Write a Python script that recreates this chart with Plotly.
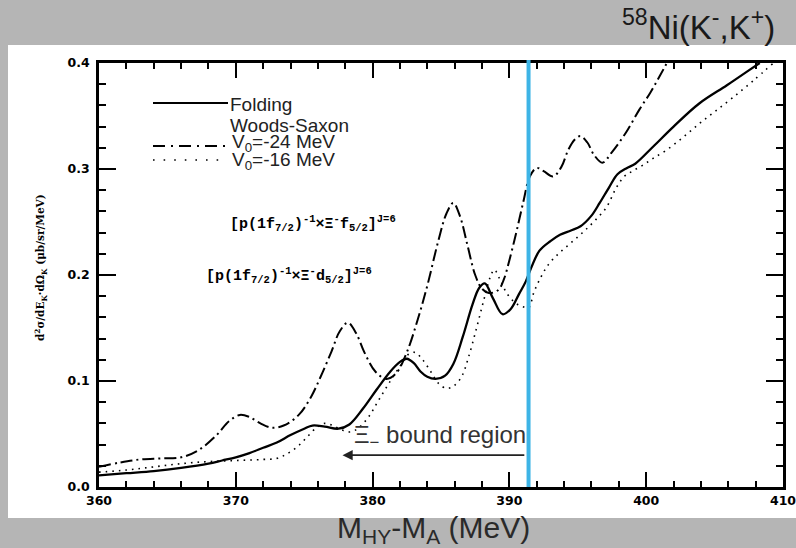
import plotly.graph_objects as go

# ---------------- data ----------------
fold_E = [360.0, 362.0, 364.0, 366.0, 368.0, 369.0, 370.0, 371.0, 372.0, 373.0, 374.0, 375.0, 375.6,
          376.5, 377.5, 378.3, 379.3, 380.3, 381.3, 382.0, 382.5, 383.0, 383.5, 384.0, 384.6, 385.3,
          385.9, 386.6, 387.3, 387.8, 388.2, 388.8, 389.5, 390.1, 390.7, 391.2, 391.6, 392.2, 393.0,
          393.7, 394.5, 395.2, 396.0, 396.6, 397.3, 397.9, 398.6, 399.2, 400.5, 402.0, 403.9, 405.9,
          407.5, 408.3]
fold_V = [0.011, 0.013, 0.015, 0.018, 0.022, 0.025, 0.028, 0.032, 0.037, 0.042, 0.049, 0.055, 0.058,
          0.057, 0.055, 0.059, 0.074, 0.092, 0.109, 0.118, 0.121, 0.117, 0.109, 0.104, 0.102, 0.105,
          0.116, 0.142, 0.172, 0.188, 0.192, 0.178, 0.163, 0.168, 0.182, 0.194, 0.207, 0.223, 0.232,
          0.238, 0.242, 0.246, 0.256, 0.268, 0.283, 0.295, 0.301, 0.305, 0.321, 0.340, 0.362, 0.379,
          0.393, 0.400]

ws24_E = [360.0, 361.5, 363.0, 364.5, 366.0, 367.3, 368.6, 369.5, 370.3, 371.0, 371.8, 372.6, 373.5,
          374.6, 375.5, 376.2, 377.0, 377.6, 378.2, 378.8, 379.4, 380.2, 381.0, 381.7, 382.5, 383.3,
          384.0, 384.8, 385.4, 385.9, 386.4, 386.9, 387.5, 388.0, 388.5, 389.2, 389.6, 390.0, 390.5,
          391.0, 391.5, 392.0, 392.5, 393.2, 393.8, 394.3, 394.8, 395.2, 395.7, 396.2, 396.8, 397.5,
          398.5, 399.5, 400.3, 401.0, 401.6]
ws24_V = [0.019, 0.023, 0.026, 0.027, 0.028, 0.035, 0.049, 0.062, 0.068, 0.066, 0.060, 0.056, 0.058,
          0.068, 0.085, 0.104, 0.128, 0.147, 0.155, 0.145, 0.127, 0.109, 0.102, 0.107, 0.127, 0.158,
          0.190, 0.232, 0.258, 0.268, 0.255, 0.230, 0.200, 0.187, 0.183, 0.186, 0.196, 0.214, 0.240,
          0.268, 0.293, 0.301, 0.298, 0.293, 0.302, 0.318, 0.328, 0.331, 0.325, 0.313, 0.306, 0.316,
          0.334, 0.356, 0.372, 0.388, 0.402]

ws16_E = [360.0, 362.0, 364.0, 366.0, 368.0, 370.0, 372.0, 373.0, 373.7, 374.5, 375.2, 375.9, 376.5,
          377.1, 377.7, 378.4, 379.0, 379.7, 380.4, 381.2, 382.0, 382.6, 383.1, 383.6, 384.2, 384.8,
          385.4, 385.9, 386.5, 387.0, 387.6, 388.1, 388.6, 388.9, 389.3, 389.8, 390.4, 391.0, 391.4,
          391.8, 392.3, 392.8, 393.5, 394.2, 395.0, 395.6, 396.3, 397.1, 397.8, 398.4, 399.0, 399.8,
          400.5, 401.5, 402.7, 403.9, 405.0, 406.3, 407.8, 409.3]
ws16_V = [0.014, 0.016, 0.019, 0.022, 0.024, 0.025, 0.026, 0.027, 0.031, 0.038, 0.047, 0.056, 0.060,
          0.058, 0.054, 0.052, 0.056, 0.066, 0.081, 0.098, 0.114, 0.125, 0.127, 0.121, 0.110, 0.098,
          0.093, 0.095, 0.104, 0.122, 0.150, 0.175, 0.198, 0.205, 0.196, 0.183, 0.174, 0.170, 0.169,
          0.184, 0.198, 0.209, 0.219, 0.227, 0.236, 0.243, 0.252, 0.264, 0.282, 0.293, 0.298, 0.304,
          0.310, 0.318, 0.330, 0.343, 0.354, 0.367, 0.383, 0.400]

x_range = [360, 410]
x_major_ticks = [360, 370, 380, 390, 400, 410]
x_minor_step = 2
y_range = [0.0, 0.4]
y_major_ticks = [0.0, 0.1, 0.2, 0.3, 0.4]
y_minor_step = 0.02
threshold_E = 391.4           # blue vertical line
bound_arrow = [391.2, 377.8]  # arrow from -> to
bound_level = 0.030

# ---------------- helpers for pixel placement ----------------
L, R, T, B = 99, 783, 63, 487
def fx(p):
    return (p - L) / (R - L)
def fy(p):
    return (B - p) / (B - T)

fig = go.Figure()
fig.add_trace(go.Scatter(x=fold_E, y=fold_V, mode="lines", line=dict(color="black", width=2.3),
                         line_shape="spline", showlegend=False))
fig.add_trace(go.Scatter(x=ws24_E, y=ws24_V, mode="lines",
                         line=dict(color="black", width=2.0, dash="12px,4px,2px,4px"),
                         line_shape="spline", showlegend=False))
fig.add_trace(go.Scatter(x=ws16_E, y=ws16_V, mode="lines",
                         line=dict(color="black", width=1.6, dash="1.6px,5px"),
                         line_shape="spline", showlegend=False))

gray = "#b5b5b5"
shapes = []
# brushed-metal gray surroundings of the white panel
shapes.append(dict(type="rect", xref="paper", yref="paper", x0=fx(-5), x1=fx(805), y0=fy(45), y1=fy(-5),
                   fillcolor=gray, line=dict(width=0), layer="below"))
shapes.append(dict(type="rect", xref="paper", yref="paper", x0=fx(-5), x1=fx(805), y0=fy(555), y1=fy(518),
                   fillcolor=gray, line=dict(width=0), layer="below"))
shapes.append(dict(type="rect", xref="paper", yref="paper", x0=fx(-5), x1=fx(8), y0=fy(555), y1=fy(-5),
                   fillcolor=gray, line=dict(width=0), layer="below"))
# blue threshold line
shapes.append(dict(type="line", xref="x", yref="paper", x0=threshold_E, x1=threshold_E, y0=0, y1=fy(60),
                   line=dict(color="#3DB4E6", width=4)))
# legend samples
shapes.append(dict(type="line", xref="paper", yref="paper", x0=fx(153), x1=fx(228), y0=fy(103), y1=fy(103),
                   line=dict(color="black", width=2.2)))
shapes.append(dict(type="line", xref="paper", yref="paper", x0=fx(153), x1=fx(226), y0=fy(146), y1=fy(146),
                   line=dict(color="black", width=2.0, dash="12px,6px,2px,6px")))
shapes.append(dict(type="line", xref="paper", yref="paper", x0=fx(153), x1=fx(226), y0=fy(160), y1=fy(160),
                   line=dict(color="black", width=1.6, dash="1.6px,9px")))

sans = "Liberation Sans, Arial, sans-serif"
mono = "Liberation Mono, DejaVu Sans Mono, monospace"
ann = []
ann.append(dict(xref="paper", yref="paper", x=fx(777), y=fy(25), xanchor="right", yanchor="middle",
                text="<sup>58</sup>Ni(K<sup>-</sup>,K<sup>+</sup>)", showarrow=False,
                font=dict(family=sans, size=33, color="#1a1a1a")))
ann.append(dict(xref="paper", yref="paper", x=fx(433), y=fy(529), xanchor="center", yanchor="middle",
                text="M<sub>HY</sub>-M<sub>A</sub> (MeV)", showarrow=False,
                font=dict(family=sans, size=30, color="#2a2a2a")))
ann.append(dict(xref="paper", yref="paper", x=fx(41), y=fy(268), xanchor="center", yanchor="middle",
                textangle=-90, showarrow=False,
                text="<b>d<sup>2</sup>σ/dE<sub>K</sub>·dΩ<sub>K</sub> (μb/sr/MeV)</b>",
                font=dict(family="DejaVu Serif, serif", size=10.5, color="black")))
# legend labels
ann.append(dict(xref="paper", yref="paper", x=fx(228), y=fy(104), xanchor="left", yanchor="middle",
                text="Folding", showarrow=False, font=dict(family=sans, size=19, color="#222")))
ann.append(dict(xref="paper", yref="paper", x=fx(228), y=fy(125), xanchor="left", yanchor="middle",
                text="Woods-Saxon", showarrow=False, font=dict(family=sans, size=19, color="#222")))
ann.append(dict(xref="paper", yref="paper", x=fx(230), y=fy(143), xanchor="left", yanchor="middle",
                text="V<sub>0</sub>=-24 MeV", showarrow=False, font=dict(family=sans, size=19, color="#222")))
ann.append(dict(xref="paper", yref="paper", x=fx(230), y=fy(161), xanchor="left", yanchor="middle",
                text="V<sub>0</sub>=-16 MeV", showarrow=False, font=dict(family=sans, size=19, color="#222")))
# state labels
ann.append(dict(xref="paper", yref="paper", x=fx(228), y=fy(223), xanchor="left", yanchor="middle",
                text="<b>[p(1f<sub>7/2</sub>)<sup>-1</sup>×Ξ<sup>-</sup>f<sub>5/2</sub>]<sup>J=6</sup></b>",
                showarrow=False, font=dict(family=mono, size=15, color="black")))
ann.append(dict(xref="paper", yref="paper", x=fx(204), y=fy(275), xanchor="left", yanchor="middle",
                text="<b>[p(1f<sub>7/2</sub>)<sup>-1</sup>×Ξ<sup>-</sup>d<sub>5/2</sub>]<sup>J=6</sup></b>",
                showarrow=False, font=dict(family=mono, size=15, color="black")))
# bound region
ann.append(dict(xref="paper", yref="paper", x=fx(352), y=fy(436), xanchor="left", yanchor="middle",
                text="Ξ<sub>−</sub> bound region", showarrow=False,
                font=dict(family=sans, size=24, color="#333")))
ann.append(dict(xref="x", yref="y", x=bound_arrow[1], y=bound_level, ax=bound_arrow[0], ay=bound_level,
                axref="x", ayref="y", text="", showarrow=True, arrowhead=2, arrowsize=1.2,
                arrowwidth=1.7, arrowcolor="#222"))

tickfont = dict(family="DejaVu Sans, sans-serif", size=12.5, color="black", weight="bold")
axis_common = dict(ticks="inside", tickcolor="black", showline=True, linecolor="black", linewidth=2.6,
                   mirror="allticks", showgrid=False, zeroline=False, tickfont=tickfont,
                   automargin=False, ticklabeloverflow="allow", layer="above traces")
fig.update_layout(
    width=796, height=548,
    margin=dict(l=L, r=796 - R, t=T, b=548 - B, autoexpand=False),
    paper_bgcolor="white", plot_bgcolor="rgba(0,0,0,0)",
    shapes=shapes, annotations=ann, showlegend=False,
    xaxis=dict(range=x_range, tickmode="array", tickvals=x_major_ticks,
               ticktext=[str(v) for v in x_major_ticks], ticklen=15, tickwidth=2.2,
               minor=dict(tickmode="linear", tick0=x_range[0], dtick=x_minor_step, ticks="inside",
                          ticklen=6, tickwidth=1.9, tickcolor="black"),
               **axis_common),
    yaxis=dict(range=y_range, tickmode="array", tickvals=y_major_ticks,
               ticktext=[f"{v:.1f}" for v in y_major_ticks], ticklen=17, tickwidth=2.2,
               ticklabelstandoff=4,
               minor=dict(tickmode="linear", tick0=y_range[0], dtick=y_minor_step, ticks="inside",
                          ticklen=7, tickwidth=1.9, tickcolor="black"),
               **axis_common),
)

fig.write_html("out.html")
